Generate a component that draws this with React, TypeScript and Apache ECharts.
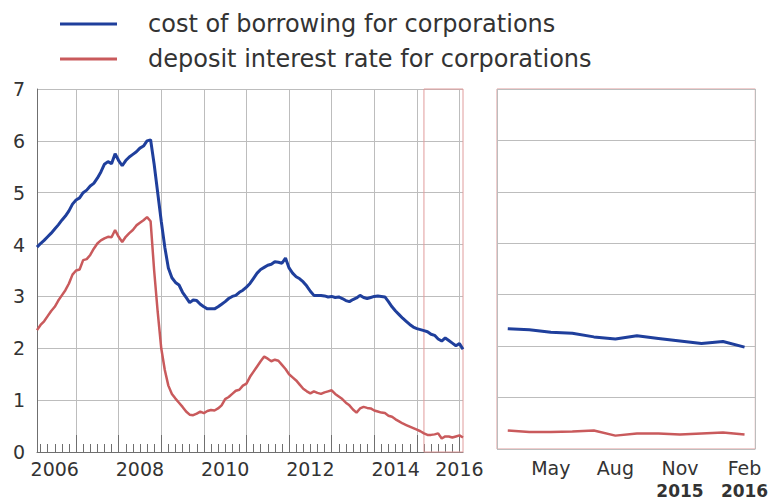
import React, { useEffect, useRef } from "react";
import * as echarts from "echarts";

const seriesNames = [
  "cost of borrowing for corporations",
  "deposit interest rate for corporations",
];

// Monthly, Feb 2006 .. Feb 2016
const borrowing = [
  3.95, 4.02, 4.08, 4.15, 4.22, 4.3, 4.38, 4.47, 4.55, 4.65, 4.78, 4.86,
  4.9, 5.0, 5.05, 5.13, 5.18, 5.28, 5.4, 5.55, 5.6, 5.56, 5.75, 5.62,
  5.52, 5.62, 5.69, 5.74, 5.79, 5.86, 5.9, 6.0, 6.02, 5.55, 5.0, 4.45,
  3.95, 3.55, 3.36, 3.27, 3.22, 3.08, 2.98, 2.88, 2.93, 2.92, 2.85, 2.8,
  2.76, 2.76, 2.76, 2.8, 2.85, 2.9, 2.96, 3.0, 3.02, 3.08, 3.12, 3.18,
  3.25, 3.35, 3.45, 3.52, 3.56, 3.6, 3.62, 3.67, 3.66, 3.64, 3.74, 3.55,
  3.45, 3.38, 3.34, 3.28, 3.2, 3.1, 3.02, 3.02, 3.02, 3.01, 2.99, 3.0,
  2.98, 2.99, 2.96, 2.92, 2.9, 2.94, 2.97, 3.02, 2.98, 2.96, 2.98, 3.0,
  3.01, 3.0, 2.99, 2.9, 2.8, 2.72, 2.65, 2.58, 2.52, 2.46, 2.41, 2.38,
  2.36, 2.34, 2.32, 2.27, 2.25, 2.18, 2.14, 2.2, 2.15, 2.1, 2.05, 2.09,
  1.98,
];

const deposit = [
  2.35, 2.45, 2.52, 2.62, 2.72, 2.8, 2.92, 3.02, 3.12, 3.25, 3.42, 3.5,
  3.52, 3.7, 3.72, 3.8, 3.92, 4.02, 4.08, 4.12, 4.15, 4.14, 4.28, 4.15,
  4.05, 4.15, 4.22, 4.28, 4.37, 4.42, 4.47, 4.53, 4.45, 3.5, 2.7, 2.0,
  1.58, 1.28, 1.12, 1.03, 0.95, 0.87, 0.78, 0.72, 0.71, 0.74, 0.78, 0.75,
  0.79, 0.81, 0.8, 0.84, 0.9, 1.02, 1.06, 1.12, 1.18, 1.2, 1.28, 1.32,
  1.45, 1.55, 1.65, 1.75, 1.84, 1.8, 1.75, 1.78, 1.76, 1.68, 1.6, 1.5,
  1.44, 1.38, 1.3, 1.22, 1.17, 1.13, 1.17, 1.14, 1.12, 1.15, 1.17, 1.19,
  1.12, 1.07, 1.02, 0.95, 0.9, 0.82, 0.76, 0.84, 0.87, 0.85, 0.84, 0.8,
  0.78, 0.76, 0.75, 0.7, 0.68, 0.63, 0.59, 0.55, 0.52, 0.49, 0.46, 0.43,
  0.4, 0.36, 0.33, 0.33, 0.34, 0.36, 0.26, 0.3, 0.3, 0.28, 0.3, 0.32,
  0.28,
];

// month categories Feb 2006 .. Feb 2016
const months: string[] = [];
for (let y = 2006; y <= 2016; y++) {
  for (let m = 1; m <= 12; m++) {
    if ((y === 2006 && m < 2) || (y === 2016 && m > 2)) continue;
    months.push(`${y}-${String(m).padStart(2, "0")}`);
  }
}

const yearLabelMonths = ["2006-07", "2008-07", "2010-07", "2012-07", "2014-07", "2016-01"];
const zoomMonths = ["Mar", "Apr", "May", "Jun", "Jul", "Aug", "Sep", "Oct", "Nov", "Dec", "Jan", "Feb"];
const zoomLabelYears: Record<string, string> = { Nov: "2015", Feb: "2016" };
const zoomStart = "2015-03";
const zoomEnd = "2016-02";
const yTicks = { min: 0, max: 7, interval: 1 };

const FONT = "DejaVu Sans";
const BLUE = "#1f3f9c";
const RED = "#c95a5c";
const BOX = "#e09c9c";
const GRID = "#bdbdbd";
const AXIS = "#6f6f6f";
const TEXT = "#333333";

export default function App() {
  const ref = useRef<HTMLDivElement>(null);

  useEffect(() => {
    if (!ref.current) return;
    const chart = echarts.init(ref.current, undefined, { renderer: "svg" });
    const zoomB = borrowing.slice(-zoomMonths.length);
    const zoomD = deposit.slice(-zoomMonths.length);

    const option: any = {
      animation: false,
      textStyle: { fontFamily: FONT },
      legend: {
        orient: "vertical",
        left: 55,
        top: 7,
        icon: "rect",
        itemWidth: 57,
        itemHeight: 3,
        itemGap: 11,
        data: seriesNames,
        textStyle: { fontSize: 24, color: TEXT, fontFamily: FONT, padding: [0, 0, 0, 26] },
      },
      grid: [
        { left: 37, top: 89, width: 426, height: 363 },
        { left: 497, top: 89, width: 263, height: 363, show: true, borderColor: BOX, borderWidth: 1 },
      ],
      xAxis: [
        {
          type: "category",
          gridIndex: 0,
          position: "bottom",
          data: months,
          boundaryGap: false,
          axisLine: { lineStyle: { color: AXIS, width: 1 } },
          axisTick: {
            inside: true,
            length: 17,
            interval: (_i: number, v: string) => v.endsWith("-01"),
            lineStyle: { color: AXIS },
          },
          axisLabel: {
            interval: (_i: number, v: string) => yearLabelMonths.includes(v),
            formatter: (v: string) => v.slice(0, 4),
            fontSize: 19,
            color: TEXT,
            fontFamily: FONT,
            margin: 7,
          },
          splitLine: {
            show: true,
            interval: (_i: number, v: string) => v.endsWith("-01"),
            lineStyle: { color: GRID, width: 1 },
          },
        },
        {
          type: "category",
          gridIndex: 0,
          position: "bottom",
          data: months,
          boundaryGap: false,
          axisLine: { show: false },
          axisTick: {
            inside: true,
            length: 8,
            interval: (_i: number, v: string) => Number(v.slice(5)) % 2 === 1,
            lineStyle: { color: AXIS },
          },
          axisLabel: { show: false },
          splitLine: { show: false },
        },
        {
          type: "category",
          gridIndex: 1,
          position: "bottom",
          data: zoomMonths,
          boundaryGap: true,
          axisLine: { show: false },
          axisTick: { inside: true, length: 9, interval: 0, lineStyle: { color: AXIS } },
          axisLabel: {
            interval: (i: number) => i % 3 === 2,
            formatter: (v: string) => (zoomLabelYears[v] ? `${v}\n{y|${zoomLabelYears[v]}}` : v),
            fontSize: 19,
            lineHeight: 23,
            color: TEXT,
            fontFamily: FONT,
            margin: 7,
            rich: { y: { fontSize: 17, fontWeight: "bold", color: TEXT, fontFamily: FONT, lineHeight: 23 } },
          },
          splitLine: {
            show: true,
            interval: (_i: number, v: string) => v === "Jan",
            lineStyle: { color: GRID, width: 1 },
          },
        },
      ],
      yAxis: [
        {
          type: "value",
          gridIndex: 0,
          ...yTicks,
          axisLine: { show: true, lineStyle: { color: AXIS } },
          axisTick: { show: false },
          axisLabel: { fontSize: 19, color: TEXT, fontFamily: FONT, margin: 12 },
          splitLine: { show: true, lineStyle: { color: GRID, width: 1 } },
        },
        {
          type: "value",
          gridIndex: 1,
          ...yTicks,
          axisLine: { show: false },
          axisTick: { show: false },
          axisLabel: { show: false },
          splitLine: { show: true, lineStyle: { color: GRID, width: 1 } },
        },
      ],
      series: [
        {
          name: seriesNames[0],
          type: "line",
          xAxisIndex: 0,
          yAxisIndex: 0,
          data: borrowing,
          symbol: "none",
          lineStyle: { color: BLUE, width: 3 },
          itemStyle: { color: BLUE },
          z: 3,
        },
        {
          name: seriesNames[1],
          type: "line",
          xAxisIndex: 0,
          yAxisIndex: 0,
          data: deposit,
          symbol: "none",
          lineStyle: { color: RED, width: 2.5 },
          itemStyle: { color: RED },
          z: 2,
          markArea: {
            silent: true,
            label: { show: false },
            itemStyle: { color: "rgba(0,0,0,0)", borderColor: BOX, borderWidth: 1 },
            data: [[{ xAxis: zoomStart, yAxis: yTicks.min }, { xAxis: zoomEnd, yAxis: yTicks.max }]],
          },
        },
        {
          name: seriesNames[0],
          type: "line",
          xAxisIndex: 2,
          yAxisIndex: 1,
          data: zoomB,
          symbol: "none",
          lineStyle: { color: BLUE, width: 3 },
          itemStyle: { color: BLUE },
        },
        {
          name: seriesNames[1],
          type: "line",
          xAxisIndex: 2,
          yAxisIndex: 1,
          data: zoomD,
          symbol: "none",
          lineStyle: { color: RED, width: 2.5 },
          itemStyle: { color: RED },
        },
      ],
    };

    chart.setOption(option);
    return () => chart.dispose();
  }, []);

  return (
    <div
      ref={ref}
      style={{ position: "fixed", left: 0, top: 0, width: 771, height: 502, background: "#fff" }}
    />
  );
}
